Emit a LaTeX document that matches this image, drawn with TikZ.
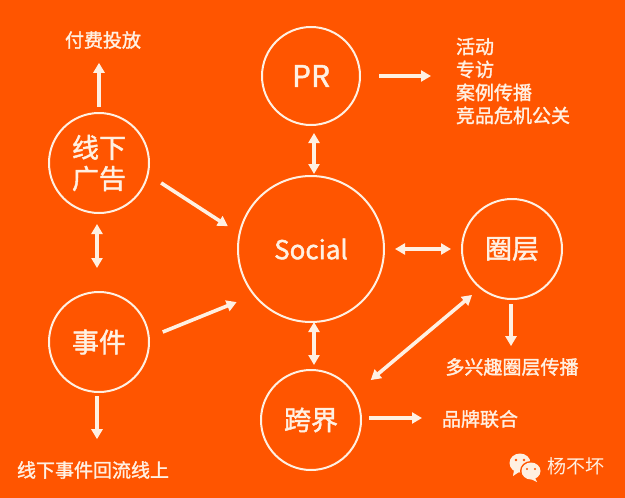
\documentclass[tikz,border=0pt]{standalone}
\usepackage{fontspec}
\usetikzlibrary{arrows.meta}
\setmainfont{Noto Sans CJK SC}
\newfontfamily\cjkb[FakeBold=1.6]{Noto Sans CJK SC}
\definecolor{bgorange}{HTML}{FF5500}
\definecolor{cream}{HTML}{FFF0E2}
\tikzset{
  hub/.style={circle,draw=cream,line width=2pt,inner sep=0pt,outer sep=0pt,minimum size=100pt,text=cream,align=center},
  lbl/.style={text=cream,inner sep=0pt,outer sep=0pt,font=\cjkb\fontsize{19}{23}\selectfont,align=left},
  big/.style={font=\cjkb\fontsize{27}{32}\selectfont},
  one/.style={draw=cream,line width=3.6pt,-{Triangle[length=10pt,width=11pt]}},
  two/.style={draw=cream,line width=3.6pt,{Triangle[length=10pt,width=11pt]}-{Triangle[length=10pt,width=11pt]}},
}
\begin{document}
\begin{tikzpicture}[x=1pt,y=-1pt]
\useasboundingbox (0,0) rectangle (625,498);
\fill[bgorange] (0,0) rectangle (625,498);
% hubs
\node[hub,big,minimum size=98pt] (pr) at (311,76) {\fontsize{30}{32}\selectfont PR};
\node[hub,big,minimum size=146pt] (social) at (311,249) {\fontsize{26}{30}\selectfont Social};
\node[hub,big] (xx) at (99,163) {线下\\[-1pt]广告};
\node[hub,big] (sj) at (99,342) {事件};
\node[hub,big] (qc) at (512,249) {圈层};
\node[hub,big] (kj) at (311,420) {跨界};
% labels
\node[lbl] (pay) at (103,40) {付费投放};
\node[lbl,anchor=west] (list) at (456,81) {活动\\专访\\案例传播\\竞品危机公关};
\node[lbl] (multi) at (512,367) {多兴趣圈层传播};
\node[lbl] (brand) at (480,419) {品牌联合};
\node[lbl] (back) at (93,470) {线下事件回流线上};
\node[text=cream,inner sep=0pt,font=\fontsize{19}{23}\selectfont] (mark) at (576,466) {杨不坏};
% connectors
\coordinate (a1) at (xx.north);
\draw[one,shorten <=6pt,shorten >=14pt] (a1) -- (a1 |- pay.south);
\draw[two,shorten <=8pt,shorten >=2pt] ([xshift=3pt]pr.south) -- ([xshift=3pt]social.north);
\draw[two,shorten <=0pt,shorten >=5pt] ([xshift=3pt]social.south) -- ([xshift=3pt]kj.north);
\coordinate (a2) at ([xshift=-2pt]xx.south);
\draw[two,shorten <=11pt,shorten >=24pt] (a2) -- (a2 |- sj.north);
\draw[two,shorten <=11pt,shorten >=11pt] (social.east) -- (qc.west);
\draw[one,shorten <=16pt,shorten >=14pt] (xx.-13) -- (social.168);
\draw[one,shorten <=15pt,shorten >=19pt] (sj.5) -- (social.219);
\draw[two,shorten <=11pt,shorten >=22pt] (qc.231) -- (kj.31);
\draw[one,shorten <=19pt,shorten >=25pt] (pr.east) -- (pr.east -| list.west);
\coordinate (a3) at ([xshift=-2pt]sj.south);
\draw[one,shorten <=4pt,shorten >=22pt] (a3) -- (a3 |- back.north);
\coordinate (a4) at ([xshift=-1pt]qc.south);
\draw[one,shorten <=5pt,shorten >=12pt] (a4) -- (a4 |- multi.north);
\draw[one,shorten <=8pt,shorten >=20pt] ([yshift=2pt]kj.east) -- ([yshift=2pt]kj.east -| brand.west);
% wechat mark
\fill[cream] (520,463) ellipse (10.5 and 9.5);
\fill[cream] (514,470) -- (513,476) -- (519,472) -- cycle;
\fill[bgorange] (531,471) ellipse (11 and 10);
\fill[cream] (531,471) ellipse (9.5 and 8.5);
\fill[cream] (535,478) -- (537,482) -- (531,479) -- cycle;
\fill[bgorange] (516,460) circle (1.3) (524,460) circle (1.3) (527,469) circle (1.1) (535,469) circle (1.1);
\end{tikzpicture}
\end{document}
